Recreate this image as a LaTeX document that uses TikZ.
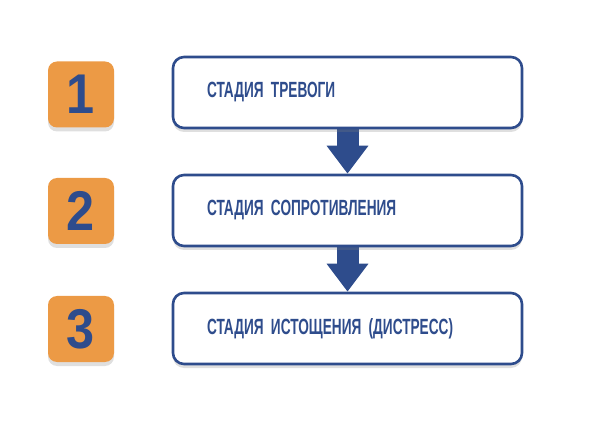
\documentclass[tikz,border=0pt]{standalone}
\usepackage{fontspec}
\newfontfamily\stagefont[FakeStretch=0.62]{Liberation Sans}
\newfontfamily\badgefont[FakeStretch=0.9]{Liberation Sans}
\DeclareRobustCommand\stagetype{\stagefont\bfseries\fontsize{22}{22}\selectfont\spaceskip=4pt\relax}
\usetikzlibrary{arrows.meta,shadows,backgrounds}
\definecolor{navy}{HTML}{2E4C8C}
\definecolor{peach}{HTML}{EC9A45}

\begin{document}
\begin{tikzpicture}
  [x=1pt,y=-1pt,every node/.style={text=navy}]
  \tikzstyle{stage} = [draw=navy,line width=2.6pt,rounded corners=11pt,fill=white,
    minimum width=349pt,minimum height=71pt,text width=281pt,inner xsep=34pt,align=left,
    font=\stagetype,
    drop shadow={shadow xshift=0pt,shadow yshift=-4pt,opacity=.25,fill=gray}]
  \tikzstyle{badge} = [fill=peach,rounded corners=9pt,minimum size=66pt,inner sep=0pt,
    font=\badgefont\bfseries\fontsize{56}{56}\selectfont,
    drop shadow={shadow xshift=0pt,shadow yshift=-4pt,opacity=.25,fill=gray}]
  \tikzstyle{step arrow} = [navy,line width=22pt,-{Triangle[width=40pt,length=28pt]}]
  \useasboundingbox (0,0) rectangle (599,435);

  \node[stage] (s1) at (347.5,92.5)  {СТАДИЯ ТРЕВОГИ};
  \node[stage] (s2) at (347.5,210.5) {СТАДИЯ СОПРОТИВЛЕНИЯ};
  \node[stage] (s3) at (347.5,328.5) {СТАДИЯ ИСТОЩЕНИЯ (ДИСТРЕСС)};

  \node[badge] (n1) at (81,94.5)  {1};
  \node[badge] (n2) at (81,211) {2};
  \node[badge] (n3) at (81,329) {3};

\begin{scope}[on background layer]
\foreach \source /\dest in {s1/s2,s2/s3}
   \draw[step arrow] (\source.south) -- (\dest.north);
\end{scope}

  \end{tikzpicture}
\end{document}
